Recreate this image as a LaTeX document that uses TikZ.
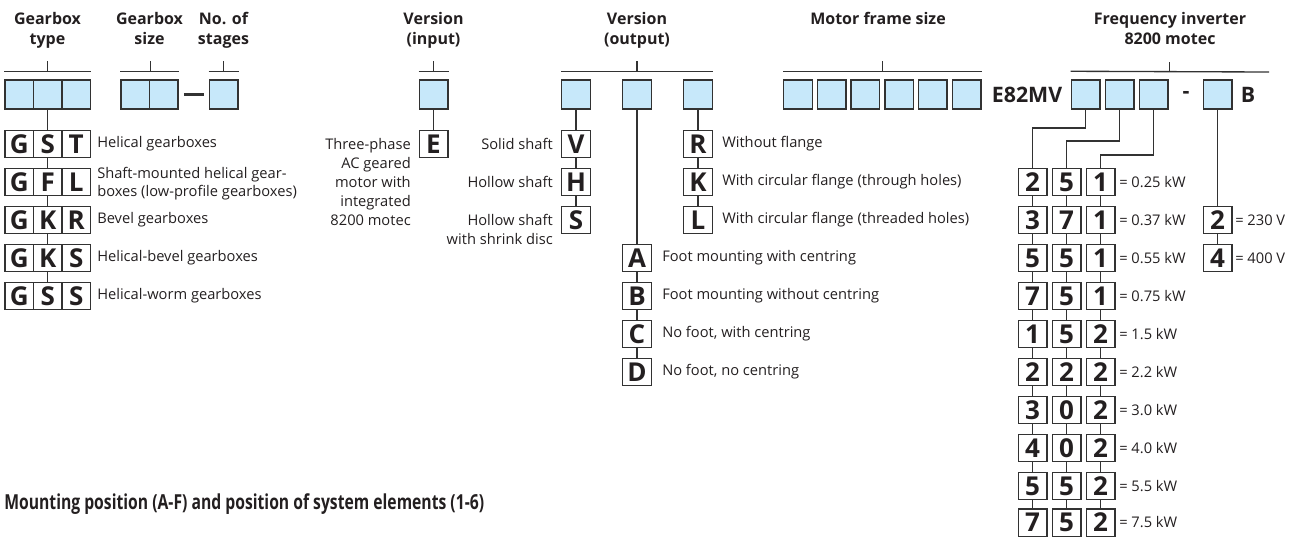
\documentclass[tikz,border=0pt]{standalone}
\usepackage{fontspec}
\setmainfont{Open Sans}
\newfontfamily\titlefont[FakeStretch=0.76]{Open Sans}
\usetikzlibrary{calc}
\definecolor{boxblue}{RGB}{199,232,250}
\definecolor{linegray}{RGB}{50,50,50}
\definecolor{textdark}{RGB}{35,31,32}
\begin{document}
\begin{tikzpicture}[x=0.75pt,y=-0.75pt,
  cell/.style={draw=linegray, fill=boxblue, line width=1.1pt, minimum width=21.4pt, minimum height=21.75pt, inner sep=0pt},
  keybox/.style={draw=linegray, fill=white, line width=1.1pt, minimum width=21.4pt, minimum height=20.6pt, inner sep=0pt, text=textdark, font=\fontsize{19.5}{19.5}\selectfont\bfseries},
  head/.style={anchor=north, align=center, inner sep=0pt, text=textdark, font=\fontsize{12}{15}\selectfont\bfseries},
  desc/.style={inner sep=0pt, text=textdark, font=\fontsize{11}{13.5}\selectfont},
  link/.style={draw=linegray, line width=1pt}]
\useasboundingbox (0,0) rectangle (1302,537);
\node[head] (hgt) at (47.5,12) {Gearbox\\type};
\node[head] (hgs) at (149.5,12) {Gearbox\\size};
\node[head] (hns) at (223.5,12) {No. of\\stages};
\node[head] (hvi) at (433.5,12) {Version\\(input)};
\node[head] (hvo) at (637,12) {Version\\(output)};
\node[head] (hmf) at (878,12) {Motor frame size};
\node[head] (hfi) at (1170,12) {Frequency inverter\\8200 motec};
\node[cell] (gt1) at (19.25,94.5){};
\node[cell] (gt2) at (47.75,94.5){};
\node[cell] (gt3) at (76.25,94.5){};
\node[cell] (gs1) at (135.25,94.5){};
\node[cell] (gs2) at (163.75,94.5){};
\node[cell] (ns) at (223.5,94.5){};
\draw[link, line width=2pt, shorten <=3.75pt, shorten >=3.75pt] (gs2) -- (ns);
\node[cell] (vi) at (433.5,94.5){};
\node[cell] (vo1) at (576,94.5){};
\node[cell] (vo2) at (637,94.5){};
\node[cell] (vo3) at (698,94.5){};
\node[cell] (mf1) at (798,94.5){};
\node[cell] (mf2) at (831.7,94.5){};
\node[cell] (mf3) at (865.4,94.5){};
\node[cell] (mf4) at (899.1,94.5){};
\node[cell] (mf5) at (932.8,94.5){};
\node[cell] (mf6) at (966.5,94.5){};
\node[text=textdark, inner sep=0pt, font=\fontsize{16}{16}\selectfont\bfseries] (e82) at (1027,94.5) {E82MV};
\node[cell] (fi1) at (1085.5,94.5){};
\node[cell] (fi2) at (1119.5,94.5){};
\node[cell] (fi3) at (1153.5,94.5){};
\node[text=textdark, inner sep=0pt, font=\fontsize{16}{16}\selectfont\bfseries] (fidash) at (1186,94.5) {-};
\node[cell] (fi4) at (1217.5,94.5){};
\node[text=textdark, inner sep=0pt, font=\fontsize{16}{16}\selectfont\bfseries] (fib) at (1248,94.5) {B};
\coordinate (fiend) at (1269,72);
\draw[link] ([yshift=6pt]gt1.north west) -- ([yshift=6pt]gt3.north east);
\draw[link] ([yshift=6pt]gt2.north) -- ([yshift=13.5pt]gt2.north);
\draw[link] ([yshift=6pt]gs1.north west) -- ([yshift=6pt]gs2.north east);
\draw[link] ([yshift=6pt]gs1.north east) -- ([yshift=13.5pt]gs1.north east);
\draw[link] ([yshift=6pt]ns.north west) -- ([yshift=6pt]ns.north east);
\draw[link] ([yshift=6pt]ns.north) -- ([yshift=13.5pt]ns.north);
\draw[link] ([yshift=6pt]vi.north west) -- ([yshift=6pt]vi.north east);
\draw[link] ([yshift=6pt]vi.north) -- ([yshift=13.5pt]vi.north);
\draw[link] ([yshift=6pt]vo1.north west) -- ([yshift=6pt]vo3.north east);
\draw[link] ([yshift=6pt]vo2.north) -- ([yshift=13.5pt]vo2.north);
\draw[link] ([yshift=6pt]mf1.north west) -- ([yshift=6pt]mf6.north east);
\draw[link] ($([yshift=6pt]mf1.north west)!0.5!([yshift=6pt]mf6.north east)$) -- ++(0,-10);
\draw[link] ([yshift=6pt]fi1.north west) -- (fiend);
\draw[link] ($([yshift=6pt]fi1.north west)!0.5!(fiend)$) -- ++(0,-10);
\node[keybox] (g1a) at (19.25,144){G};
\node[keybox] (g1b) at (47.75,144){S};
\node[keybox] (g1c) at (76.25,144){T};
\node[keybox] (g2a) at (19.25,182){G};
\node[keybox] (g2b) at (47.75,182){F};
\node[keybox] (g2c) at (76.25,182){L};
\node[keybox] (g3a) at (19.25,220){G};
\node[keybox] (g3b) at (47.75,220){K};
\node[keybox] (g3c) at (76.25,220){R};
\node[keybox] (g4a) at (19.25,258){G};
\node[keybox] (g4b) at (47.75,258){K};
\node[keybox] (g4c) at (76.25,258){S};
\node[keybox] (g5a) at (19.25,296){G};
\node[keybox] (g5b) at (47.75,296){S};
\node[keybox] (g5c) at (76.25,296){S};
\draw[link] (gt2) -- (g1b) -- (g2b) -- (g3b) -- (g4b) -- (g5b);
\node[desc, anchor=west] (tg1) at (97,144) {Helical gearboxes};
\node[desc, anchor=west, align=left] (tg2) at (97,184) {Shaft-mounted helical gear-\\boxes (low-profile gearboxes)};
\node[desc, anchor=west] (tg3) at (97,220) {Bevel gearboxes};
\node[desc, anchor=west] (tg4) at (97,258) {Helical-bevel gearboxes};
\node[desc, anchor=west] (tg5) at (97,296) {Helical-worm gearboxes};
\node[keybox] (e1) at (433.5,144){E};
\draw[link] (vi) -- (e1);
\node[desc, anchor=east, align=right, font=\fontsize{11}{14.25}\selectfont] (te1) at (411,182) {Three-phase\\AC geared\\motor with\\integrated\\8200 motec};
\node[keybox] (s1) at (576,144){V};
\node[keybox] (s2) at (576,182){H};
\node[keybox] (s3) at (576,220){S};
\draw[link] (vo1) -- (s1) -- (s2) -- (s3);
\node[desc, anchor=east] (ts1) at (553,144) {Solid shaft};
\node[desc, anchor=east] (ts2) at (553,182) {Hollow shaft};
\node[desc, anchor=east, align=right, font=\fontsize{11}{14.25}\selectfont] (ts3) at (553,229.5) {Hollow shaft\\with shrink disc};
\node[keybox] (f1) at (698,144){R};
\node[keybox] (f2) at (698,182){K};
\node[keybox] (f3) at (698,220){L};
\draw[link] (vo3) -- (f1) -- (f2) -- (f3);
\node[desc, anchor=west] (tf1) at (722,144) {Without flange};
\node[desc, anchor=west] (tf2) at (722,182) {With circular flange (through holes)};
\node[desc, anchor=west] (tf3) at (722,220) {With circular flange (threaded holes)};
\node[keybox] (m1) at (637,258){A};
\node[keybox] (m2) at (637,296){B};
\node[keybox] (m3) at (637,334){C};
\node[keybox] (m4) at (637,372){D};
\draw[link] (vo2) -- (m1) -- (m2) -- (m3) -- (m4);
\node[desc, anchor=west] (tm1) at (662,258) {Foot mounting with centring};
\node[desc, anchor=west] (tm2) at (662,296) {Foot mounting without centring};
\node[desc, anchor=west] (tm3) at (662,334) {No foot, with centring};
\node[desc, anchor=west] (tm4) at (662,372) {No foot, no centring};
\node[keybox] (p1a) at (1032.5,182){2};
\node[keybox] (p1b) at (1066.5,182){5};
\node[keybox] (p1c) at (1100.5,182){1};
\node[keybox] (p2a) at (1032.5,220){3};
\node[keybox] (p2b) at (1066.5,220){7};
\node[keybox] (p2c) at (1100.5,220){1};
\node[keybox] (p3a) at (1032.5,258){5};
\node[keybox] (p3b) at (1066.5,258){5};
\node[keybox] (p3c) at (1100.5,258){1};
\node[keybox] (p4a) at (1032.5,296){7};
\node[keybox] (p4b) at (1066.5,296){5};
\node[keybox] (p4c) at (1100.5,296){1};
\node[keybox] (p5a) at (1032.5,334){1};
\node[keybox] (p5b) at (1066.5,334){5};
\node[keybox] (p5c) at (1100.5,334){2};
\node[keybox] (p6a) at (1032.5,372){2};
\node[keybox] (p6b) at (1066.5,372){2};
\node[keybox] (p6c) at (1100.5,372){2};
\node[keybox] (p7a) at (1032.5,410){3};
\node[keybox] (p7b) at (1066.5,410){0};
\node[keybox] (p7c) at (1100.5,410){2};
\node[keybox] (p8a) at (1032.5,448){4};
\node[keybox] (p8b) at (1066.5,448){0};
\node[keybox] (p8c) at (1100.5,448){2};
\node[keybox] (p9a) at (1032.5,486){5};
\node[keybox] (p9b) at (1066.5,486){5};
\node[keybox] (p9c) at (1100.5,486){2};
\node[keybox] (p10a) at (1032.5,522.5){7};
\node[keybox] (p10b) at (1066.5,522.5){5};
\node[keybox] (p10c) at (1100.5,522.5){2};
\draw[link] (p1a) -- (p2a) -- (p3a) -- (p4a) -- (p5a) -- (p6a) -- (p7a) -- (p8a) -- (p9a) -- (p10a);
\draw[link] (p1b) -- (p2b) -- (p3b) -- (p4b) -- (p5b) -- (p6b) -- (p7b) -- (p8b) -- (p9b) -- (p10b);
\draw[link] (p1c) -- (p2c) -- (p3c) -- (p4c) -- (p5c) -- (p6c) -- (p7c) -- (p8c) -- (p9c) -- (p10c);
\node[desc, anchor=west] (tp1) at (1119,182) {= 0.25 kW};
\node[desc, anchor=west] (tp2) at (1119,220) {= 0.37 kW};
\node[desc, anchor=west] (tp3) at (1119,258) {= 0.55 kW};
\node[desc, anchor=west] (tp4) at (1119,296) {= 0.75 kW};
\node[desc, anchor=west] (tp5) at (1119,334) {= 1.5 kW};
\node[desc, anchor=west] (tp6) at (1119,372) {= 2.2 kW};
\node[desc, anchor=west] (tp7) at (1119,410) {= 3.0 kW};
\node[desc, anchor=west] (tp8) at (1119,448) {= 4.0 kW};
\node[desc, anchor=west] (tp9) at (1119,486) {= 5.5 kW};
\node[desc, anchor=west] (tp10) at (1119,522.5) {= 7.5 kW};
\coordinate (k1) at (1032.5,128);
\coordinate (k2) at (1066.5,141);
\coordinate (k3) at (1100.5,155);
\draw[link] (fi1) |- (k1) -- (p1a);
\draw[link] (fi2) |- (k2) -- (p1b);
\draw[link] (fi3) |- (k3) -- (p1c);
\node[keybox] (u1) at (1217.5,220){2};
\node[keybox] (u2) at (1217.5,258){4};
\draw[link] (fi4) -- (u1) -- (u2);
\node[desc, anchor=west] (tu1) at (1235,220) {= 230 V};
\node[desc, anchor=west] (tu2) at (1235,258) {= 400 V};
\node[anchor=west, inner sep=0pt, text=textdark, font=\titlefont\fontsize{15.5}{15.5}\selectfont\bfseries] (title) at (4,504) {Mounting position (A-F) and position of system elements (1-6)};
\end{tikzpicture}
\end{document}
